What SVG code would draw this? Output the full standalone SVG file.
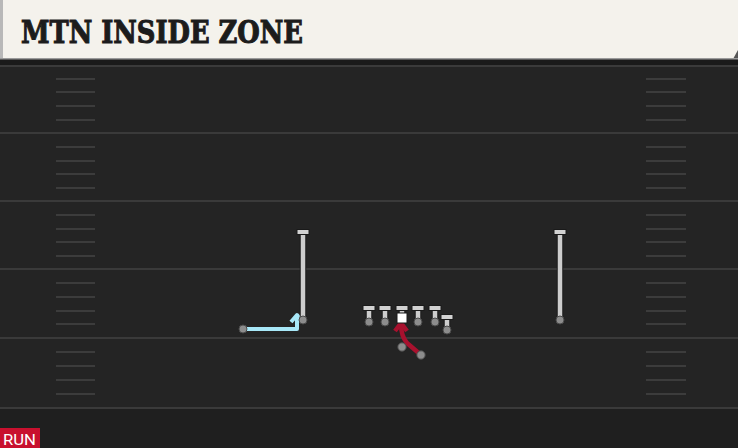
<svg xmlns="http://www.w3.org/2000/svg" width="738" height="448" viewBox="0 0 738 448">
<defs>
<style>
.yard{stroke:#3a3a3a;stroke-width:2}
.hash{stroke:#3c3c3c;stroke-width:2}
.route{fill:none;stroke:#cdcdcd;stroke-width:4.5;stroke-linecap:butt}
.routeo{fill:none;stroke:#1a1a1a;stroke-width:6.5}
.dot{fill:#8c8c8c;stroke:#4a4a4a;stroke-width:1}
.bar{fill:#d2d2d2;stroke:#1a1a1a;stroke-width:1}
.blue{fill:none;stroke:#a8e8f8;stroke-width:4;stroke-linejoin:round}
.red{fill:none;stroke:#a8112e;stroke-width:4.5;stroke-linejoin:round}
</style>
</defs>
<rect x="0" y="0" width="738" height="448" fill="#242424"/>
<rect x="0" y="408" width="738" height="40" fill="#1f1f1f"/>
<g id="field">
<rect x="0" y="59" width="738" height="7" fill="#1a1a1a"/>
<line class="yard" x1="0" y1="66" x2="738" y2="66"/>
<line class="yard" x1="0" y1="133" x2="738" y2="133"/>
<line class="yard" x1="0" y1="201" x2="738" y2="201"/>
<line class="yard" x1="0" y1="269" x2="738" y2="269"/>
<line class="yard" x1="0" y1="338" x2="738" y2="338"/>
<line class="yard" x1="0" y1="408" x2="738" y2="408"/>
<g id="hashes">
<path class="hash" d="M56 79H95M56 92H95M56 106H95M56 120H95M56 147H95M56 161H95M56 174H95M56 188H95M56 215H95M56 229H95M56 242H95M56 256H95M56 283H95M56 297H95M56 311H95M56 324H95M56 352H95M56 366H95M56 380H95M56 394H95"/>
<path class="hash" d="M646 79H686M646 92H686M646 106H686M646 120H686M646 147H686M646 161H686M646 174H686M646 188H686M646 215H686M646 229H686M646 242H686M646 256H686M646 283H686M646 297H686M646 311H686M646 324H686M646 352H686M646 366H686M646 380H686M646 394H686"/>
</g>
</g>
<g id="header">
<rect x="0" y="0" width="738" height="59" fill="#f4f2ec"/>
<path d="M738 50 L733 59 L738 59 Z" fill="#555"/>
<rect x="0" y="0" width="3" height="59" fill="#b8b8b8"/>
<rect x="0" y="58" width="738" height="1.5" fill="#9a9a9a"/>
<text x="21" y="43" font-family="'DejaVu Serif Condensed','DejaVu Serif',serif" font-weight="bold" font-size="32" fill="#1c1c1c" stroke="#1c1c1c" stroke-width="1" textLength="282" lengthAdjust="spacingAndGlyphs">MTN INSIDE ZONE</text>
</g>
<g id="connectors">
<path class="blue" d="M243 329 L297 329 L297 316"/>
<path class="blue" d="M291 322 L297 315 L303 322"/>
<path class="red" d="M421 355 L407 343 Q401 336 401 324"/>
<path class="red" d="M395 331 L401 323 L407 331"/>
</g>
<g id="wr-left">
<line class="routeo" x1="303" y1="232" x2="303" y2="320"/>
<line class="route" x1="303" y1="232" x2="303" y2="320"/>
<rect class="bar" x="297" y="229.5" width="12" height="5"/>
<circle class="dot" cx="303" cy="320" r="4"/>
</g>
<g id="wr-right">
<line class="routeo" x1="560" y1="232" x2="560" y2="320"/>
<line class="route" x1="560" y1="232" x2="560" y2="320"/>
<rect class="bar" x="554" y="229.5" width="12" height="5"/>
<circle class="dot" cx="560" cy="320" r="4"/>
</g>
<g id="slot">
<circle class="dot" cx="243" cy="329" r="4"/>
</g>
<g id="lt">
<line class="routeo" x1="369" y1="308" x2="369" y2="321"/>
<line class="route" x1="369" y1="308" x2="369" y2="321"/>
<rect class="bar" x="363" y="305.5" width="12" height="5"/>
<circle class="dot" cx="369" cy="322" r="4"/>
</g>
<g id="lg">
<line class="routeo" x1="385" y1="308" x2="385" y2="321"/>
<line class="route" x1="385" y1="308" x2="385" y2="321"/>
<rect class="bar" x="379" y="305.5" width="12" height="5"/>
<circle class="dot" cx="385" cy="322" r="4"/>
</g>
<g id="center">
<line class="routeo" x1="402" y1="308" x2="402" y2="314"/>
<line class="route" x1="402" y1="308" x2="402" y2="314"/>
<rect class="bar" x="396" y="305.5" width="12" height="5"/>
<rect x="397" y="313" width="10" height="10" fill="#ffffff" stroke="#1a1a1a" stroke-width="1"/>
</g>
<g id="rg">
<line class="routeo" x1="418" y1="308" x2="418" y2="321"/>
<line class="route" x1="418" y1="308" x2="418" y2="321"/>
<rect class="bar" x="412" y="305.5" width="12" height="5"/>
<circle class="dot" cx="418" cy="322" r="4"/>
</g>
<g id="rt">
<line class="routeo" x1="435" y1="308" x2="435" y2="321"/>
<line class="route" x1="435" y1="308" x2="435" y2="321"/>
<rect class="bar" x="429" y="305.5" width="12" height="5"/>
<circle class="dot" cx="435" cy="322" r="4"/>
</g>
<g id="te">
<line class="routeo" x1="447" y1="317" x2="447" y2="329"/>
<line class="route" x1="447" y1="317" x2="447" y2="329"/>
<rect class="bar" x="441" y="314.5" width="12" height="5"/>
<circle class="dot" cx="447" cy="330" r="4"/>
</g>
<g id="qb">
<circle class="dot" cx="402" cy="347" r="4.2"/>
</g>
<g id="rb">
<circle class="dot" cx="421" cy="355" r="4.2"/>
</g>
<g id="run-tag">
<rect x="0" y="428" width="40" height="20" fill="#c8102e"/>
<text x="3" y="445" font-family="Roboto,'Liberation Sans',sans-serif" font-size="15" fill="#ffffff" textLength="33" lengthAdjust="spacingAndGlyphs">RUN</text>
</g>
</svg>
